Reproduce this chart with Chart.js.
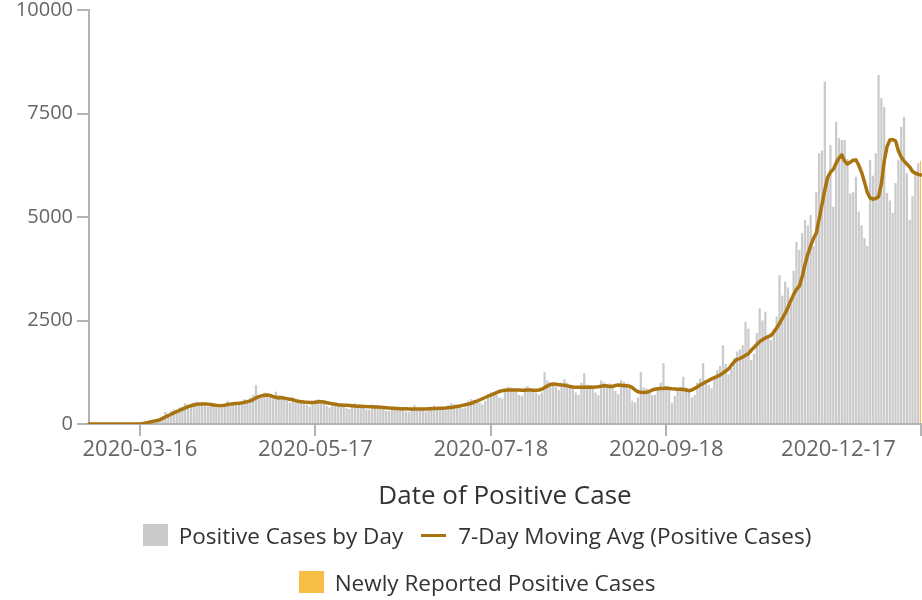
<!DOCTYPE html>
<html>
<head>
<meta charset="utf-8">
<script src="https://cdn.jsdelivr.net/npm/chart.js@4/dist/chart.umd.min.js"></script>
<style>
html,body{margin:0;padding:0;background:#fff;}
#wrap{position:relative;width:922px;height:600px;overflow:hidden;}
#legend{position:absolute;left:0;top:519px;width:954px;font-family:'Open Sans',sans-serif;font-size:22.5px;color:#333;}
.row{display:flex;justify-content:center;align-items:center;height:32px;white-space:nowrap;}
.row + .row{margin-top:15px;}
.sq{display:inline-block;width:25px;height:22px;margin-right:11px;}
.ln{display:inline-block;width:25px;height:3px;margin-right:12px;}
.gap{display:inline-block;width:18px;}
</style>
</head>
<body>
<div id="wrap">
<canvas id="c" width="922" height="600"></canvas>
<div id="legend"></div>
</div>
<script>
// ---- categories ----
const startDate = '2020-02-27';
const dayCount = 295;
const dates = [];
{
  const d0 = new Date(startDate + 'T00:00:00Z');
  for (let i = 0; i < dayCount; i++) {
    const d = new Date(d0.getTime() + i * 86400000);
    dates.push(d.toISOString().slice(0, 10));
  }
}
// ---- tick labels ----
const xTickDates = ['2020-03-16', '2020-05-17', '2020-07-18', '2020-09-18', '2020-12-17'];
const yTickValues = [0, 2500, 5000, 7500, 10000];

// ---- series: Positive Cases by Day ----
const positiveCases = [
  0,0,0,0,0,0,0,0,0,0,
  0,0,0,0,0,0,0,0,10,20,
  40,50,70,90,100,120,180,290,250,310,
  350,330,400,420,500,450,480,520,540,530,
  470,430,420,460,500,450,380,400,470,560,
  520,500,450,520,560,600,580,640,700,940,
  700,720,760,740,650,600,780,700,650,620,
  560,520,640,600,580,540,500,460,420,560,
  580,600,560,520,440,400,480,520,500,480,
  440,380,360,480,500,470,450,400,350,340,
  470,460,440,420,380,320,310,420,430,400,
  380,350,300,290,400,460,380,370,340,300,
  330,420,450,420,400,350,330,460,500,480,
  450,420,380,400,560,600,580,560,520,470,
  560,720,760,720,700,640,620,820,900,880,
  860,800,700,680,880,920,860,840,760,700,
  760,1250,1050,1000,960,900,820,1000,1080,1000,
  950,880,760,700,1000,1230,950,920,880,760,
  700,1050,1000,960,980,940,800,720,1060,1020,
  980,900,560,520,640,1250,880,860,820,700,
  700,880,1000,1470,900,850,500,680,820,900,
  1140,880,820,640,700,1000,1100,1470,1000,950,
  860,1100,1300,1400,1900,1450,1200,1350,1600,1750,
  1800,1900,2470,2300,1545,1700,2200,2790,2500,2710,
  2100,2030,2300,2600,3600,3100,3440,3300,2900,3700,
  4400,4200,4610,4930,4800,5050,4300,5600,6540,6600,
  8270,5900,6740,5250,7300,6900,6860,6860,6400,5570,
  5600,5970,5130,4800,4490,4300,6380,6000,6540,8430,
  7870,7660,5580,5400,5100,5820,6380,7180,7420,6060,
  4930,5500,6100,6300,null
];

// ---- series: 7-Day Moving Avg (Positive Cases) ----
const movingAvg = [
  0,0,0,0,0,0,0,0,0,0,
  0,0,0,0,0,0,0,0,0,10,
  25,40,55,70,85,100,135,170,200,235,
  270,300,330,360,390,420,440,460,475,480,
  485,485,480,470,460,450,440,445,455,470,
  480,490,495,500,510,525,540,560,590,630,
  660,680,695,700,690,660,645,630,640,625,
  610,600,585,565,550,540,530,525,520,520,
  525,535,540,530,515,500,490,475,465,460,
  455,450,445,440,435,430,428,425,420,418,
  415,412,410,405,400,392,385,380,375,372,
  370,368,366,364,362,360,360,360,362,365,
  368,370,372,375,378,380,385,392,400,410,
  425,435,450,465,480,500,525,550,580,610,
  640,670,700,730,760,785,805,815,820,820,
  820,820,820,815,818,820,820,818,815,820,
  840,880,920,955,965,960,950,940,935,920,
  905,895,890,890,885,885,890,895,890,895,
  900,915,925,920,905,910,930,940,935,925,
  925,915,880,820,780,765,760,765,790,820,
  840,850,855,860,868,860,850,845,840,840,
  835,820,805,820,860,900,940,980,1020,1050,
  1090,1120,1150,1180,1230,1280,1330,1420,1500,1560,
  1580,1620,1660,1700,1780,1850,1920,1990,2040,2080,
  2110,2140,2220,2320,2430,2550,2670,2820,2980,3130,
  3250,3330,3550,3850,4100,4300,4480,4610,4950,5300,
  5650,5950,6080,6150,6300,6420,6500,6350,6280,6320,
  6370,6380,6250,6080,5850,5600,5460,5430,5450,5490,
  5800,6350,6700,6860,6870,6840,6600,6450,6350,6280,
  6210,6100,6060,6030,6015
];

// ---- series: Newly Reported Positive Cases (last day only) ----
const newlyReportedDates = ['2020-12-17'];
const newlyReportedValues = [6350];
const newlyReported = dates.map(d => {
  const k = newlyReportedDates.indexOf(d);
  return k >= 0 ? newlyReportedValues[k] : null;
});

const seriesNames = ['Positive Cases by Day', '7-Day Moving Avg (Positive Cases)', 'Newly Reported Positive Cases'];
const colors = { bars: '#cacaca', line: '#a9730f', newly: '#f9be45', axis: '#b3b3b3', tick: '#666666', title: '#333333' };

const FONT = "'Open Sans', sans-serif";

const xTickIdx = [0].concat(xTickDates.map(d => dates.indexOf(d)));

new Chart(document.getElementById('c'), {
  type: 'bar',
  data: {
    labels: dates,
    datasets: [
      { type: 'bar', label: seriesNames[0], data: positiveCases, backgroundColor: colors.bars,
        categoryPercentage: 1, barPercentage: 0.8, grouped: false, order: 2 },
      { type: 'line', label: seriesNames[1], data: movingAvg, borderColor: colors.line, borderWidth: 3.5,
        pointRadius: 0, tension: 0, fill: false, order: 0, borderJoinStyle: 'round', borderCapStyle: 'round' },
      { type: 'bar', label: seriesNames[2], data: newlyReported, backgroundColor: colors.newly,
        categoryPercentage: 1, barPercentage: 0.8, grouped: false, order: 1 }
    ]
  },
  options: {
    responsive: false,
    animation: false,
    devicePixelRatio: 1,
    layout: { padding: { top: 10, right: 1, bottom: 88, left: 0 } },
    plugins: { legend: { display: false }, tooltip: { enabled: false } },
    scales: {
      x: {
        type: 'category',
        offset: false,
        grid: {
          offset: false, drawOnChartArea: false, drawTicks: true, tickLength: 12, lineWidth: 2,
          color: colors.axis,
          tickColor: ctx => (ctx.tick && ctx.tick.value === 0) ? 'rgba(0,0,0,0)' : colors.axis
        },
        border: { display: true, color: colors.axis, width: 2 },
        afterBuildTicks: scale => { scale.ticks = xTickIdx.map(v => ({ value: v })); },
        afterFit: scale => { scale.height = 88; scale.paddingLeft = 0; scale.paddingRight = 0; },
        ticks: {
          autoSkip: false, maxRotation: 0, minRotation: 0, align: 'inner', padding: 1,
          color: colors.tick, font: { family: FONT, size: 22 },
          callback: function (value, index, ticks) {
            if (value === 0) return '';
            const lbl = this.getLabelForValue(value);
            return index === ticks.length - 1 ? lbl + '\u2007\u2007' : lbl;
          }
        },
        title: { display: true, text: 'Date of Positive Case', color: colors.title,
          font: { family: FONT, size: 26 }, padding: { top: 0, bottom: 0 } }
      },
      y: {
        min: 0, max: 10000,
        afterBuildTicks: scale => { scale.ticks = yTickValues.map(v => ({ value: v })); },
        afterFit: scale => { scale.width = 89; scale.paddingTop = 0; scale.paddingBottom = 0; },
        grid: { drawOnChartArea: false, drawTicks: true, tickLength: 12, lineWidth: 2, color: colors.axis },
        border: { display: true, color: colors.axis, width: 2 },
        ticks: { padding: 4, color: colors.tick, font: { family: FONT, size: 20 },
          callback: v => String(v) }
      }
    }
  }
});

// ---- HTML legend ----
const lg = document.getElementById('legend');
lg.innerHTML =
  '<div class="row"><span class="sq" style="background:' + colors.bars + '"></span><span>' + seriesNames[0] + '</span>' +
  '<span class="gap"></span><span class="ln" style="background:' + colors.line + '"></span><span>' + seriesNames[1] + '</span></div>' +
  '<div class="row"><span class="sq" style="background:' + colors.newly + '"></span><span>' + seriesNames[2] + '</span></div>';
</script>
</body>
</html>
